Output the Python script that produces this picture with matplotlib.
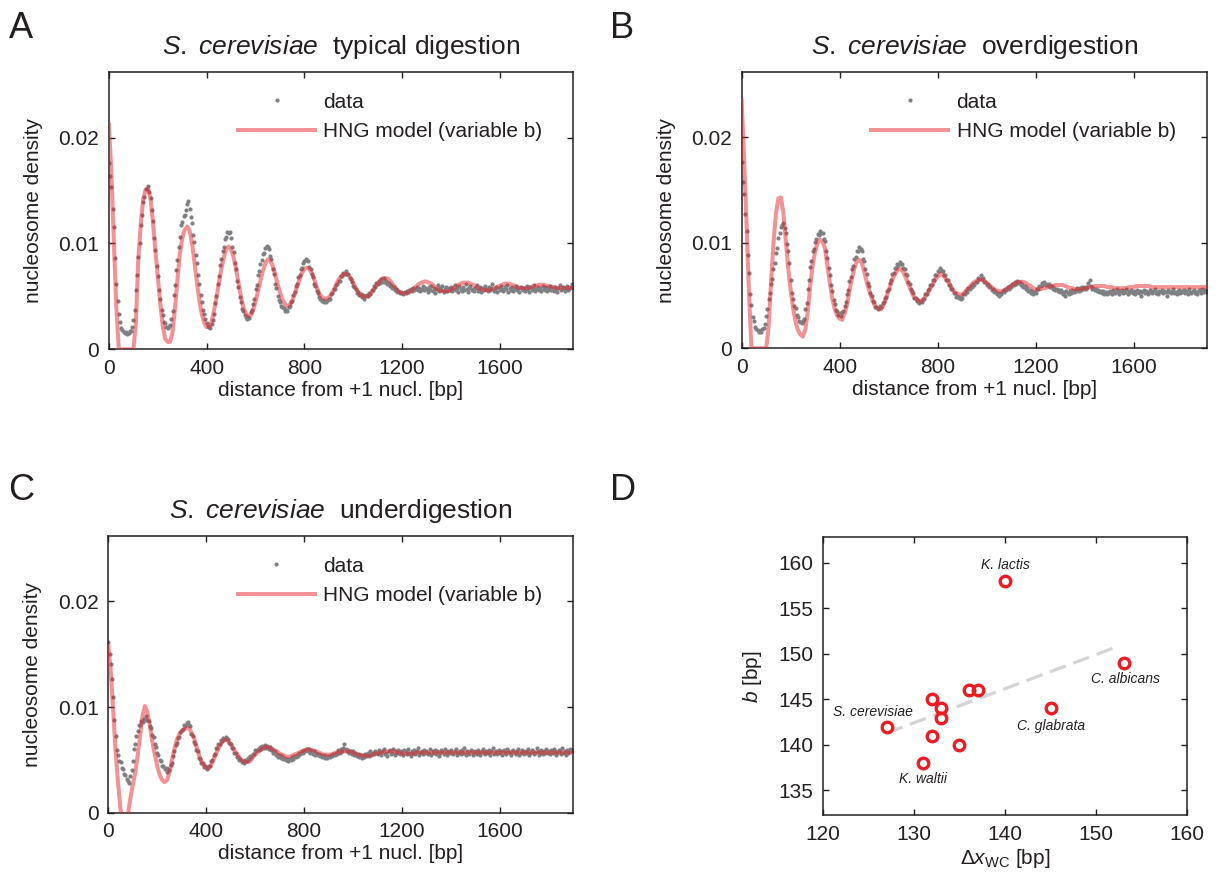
import numpy as np
import matplotlib
matplotlib.use('Agg')
import matplotlib.pyplot as plt
from matplotlib.lines import Line2D

plt.rcParams['font.family'] = ['Liberation Sans', 'DejaVu Sans']
plt.rcParams['mathtext.fontset'] = 'custom'
plt.rcParams['mathtext.rm'] = 'Liberation Sans'
plt.rcParams['mathtext.it'] = 'Liberation Sans:italic'
plt.rcParams['mathtext.bf'] = 'Liberation Sans:bold'

# ---------------- data (nucleosome density in units of 1e-4) ----------------
DENSITY_UNIT = 1e-4
DATA_STEP_BP = 5      # data sampled every 5 bp, starting at 0
MODEL_STEP_BP = 10    # model sampled every 10 bp, starting at 0

typical_data = [
    176,164,153,133,116,86,62,46,33,26,20,18,16,15,16,14,15,17,17,21,
    28,37,56,70,87,100,117,127,139,144,151,151,154,149,143,132,121,105,94,79,
    69,56,48,37,32,26,25,21,20,22,23,29,36,51,61,75,84,97,106,117,
    120,126,127,132,137,140,133,125,119,108,101,89,82,70,62,51,45,37,33,29,
    25,22,21,20,24,28,33,44,50,62,69,80,85,93,97,104,106,111,110,111,
    105,97,92,82,76,65,59,49,45,38,36,32,31,29,31,30,35,37,43,48,
    57,61,70,74,81,84,90,91,96,98,97,95,88,85,76,71,62,58,50,47,
    45,41,40,39,36,37,36,40,41,45,46,51,54,60,62,68,70,76,77,82,
    83,85,84,83,78,76,71,68,62,60,55,53,49,48,46,47,45,46,45,47,
    48,48,52,53,57,57,61,62,65,65,69,69,72,71,74,71,71,67,66,64,
    60,59,57,53,54,51,52,49,51,48,50,51,50,53,52,56,56,60,59,63,
    62,65,63,66,64,67,64,65,62,63,60,61,58,59,56,57,54,55,53,54,
    53,52,54,53,55,54,56,57,55,58,56,57,59,56,58,55,57,60,56,58,
    57,54,59,56,60,55,58,53,57,61,55,58,56,60,54,57,59,55,58,56,
    59,55,57,61,56,58,54,60,57,55,59,56,62,57,54,58,60,56,57,55,
    58,61,55,57,59,54,58,56,60,57,55,59,56,58,62,55,57,59,54,58,
    56,60,57,55,59,57,61,54,58,56,59,55,57,60,56,58,54,59,57,56,
    58,55,60,57,54,59,56,58,61,55,57,59,56,58,55,60,57,56,59,55,
    57,60,56,58,55,59,57,54,58,61,56,57,59,55,58,60,56,57,59,62,
    58]

typical_model = [
    212,165,100,40,0,0,0,0,0,0,
    0,25,86,118,142,151,152,142,120,93,
    68,43,22,10,7,7,16,38,65,90,
    105,113,116,112,100,82,63,46,33,25,
    21,21,26,36,49,63,76,87,95,97,
    94,87,76,63,50,40,34,31,32,37,
    45,55,65,74,81,85,84,79,71,62,
    54,47,43,41,42,46,52,59,66,72,
    76,77,76,72,66,59,53,50,48,48,
    49,52,56,61,66,69,71,71,70,67,
    63,58,54,51,50,50,50,52,55,59,
    62,65,67,67,67,65,62,59,56,54,
    53,53,53,54,56,58,60,62,63,64,
    64,63,62,60,58,56,55,55,55,55,
    56,58,59,61,62,63,63,63,62,61,
    60,58,57,56,56,56,56,57,58,59,
    60,61,62,62,62,61,60,59,58,58,
    58,58,58,59,60,60,61,61,61,60,
    60,59,59,58,58,58,58,58,58,58,
    58]

over_data = [
    177,158,146,127,111,88,71,51,41,30,26,20,18,17,15,16,15,18,19,23,
    31,37,47,52,61,66,75,81,90,95,105,109,115,117,119,114,109,99,92,81,
    65,52,47,40,38,32,30,26,25,24,26,28,37,43,56,65,77,83,92,94,
    101,104,108,107,111,109,109,104,102,92,86,76,69,60,54,46,42,36,35,32,
    33,31,34,35,40,44,51,55,64,68,75,78,85,87,92,92,96,94,92,85,
    83,75,70,62,59,52,50,45,44,39,39,37,38,40,39,43,44,48,49,54,
    56,62,65,70,71,76,76,80,79,82,80,80,76,75,70,69,63,61,56,54,
    52,48,48,45,46,43,45,44,47,47,51,51,55,56,60,60,65,65,69,69,
    73,73,76,74,73,69,69,65,65,60,60,56,56,52,52,49,50,48,49,47,
    48,51,51,54,53,57,56,59,58,61,60,63,63,67,66,69,66,67,63,63,
    60,61,58,58,55,56,53,54,51,52,50,52,51,54,53,56,55,58,56,59,
    58,61,60,63,61,64,62,63,60,61,58,59,56,57,54,55,52,54,51,53,
    52,56,56,59,59,62,61,63,60,61,60,61,58,59,56,57,55,56,54,55,
    53,55,51,53,50,54,52,51,54,52,55,53,55,54,57,54,57,55,58,56,
    58,56,58,62,65,59,56,57,55,56,54,55,53,54,52,54,51,53,51,53,
    52,54,51,55,53,52,56,53,51,54,55,52,54,53,56,51,54,53,55,52,
    54,51,53,55,52,54,50,53,55,52,54,53,51,55,53,52,54,56,52,53,
    51,54,53,55,52,54,53,50,55,53,52,54,56,52,53,51,54,55,52,54,
    53,55,52,54,51,56,53,52,54,55,52,53,51,55,54,52,56,53,55,54,
    53]

over_model = [
    235,180,118,52,0,0,0,0,0,0,
    0,20,63,100,128,142,143,129,102,76,
    55,38,25,17,13,11,18,35,60,79,
    92,100,103,101,95,78,62,47,37,31,
    28,27,33,41,55,66,76,82,84,81,
    73,63,55,48,42,39,37,37,42,48,
    55,62,68,72,75,75,72,67,61,55,
    50,47,45,44,46,49,53,57,61,65,
    68,70,70,67,64,60,56,53,52,51,
    51,53,56,58,61,63,64,65,65,64,
    62,60,58,56,55,54,54,55,56,58,
    59,61,62,63,63,63,62,60,59,57,
    56,56,56,57,57,58,59,59,60,60,
    60,60,59,58,57,57,56,56,56,56,
    57,57,58,58,59,59,59,59,59,58,
    58,58,57,57,57,57,57,57,58,58,
    58,59,59,59,59,59,59,58,58,58,
    58,58,58,58,58,58,58,58,58,58,
    58,58,58,58,58,58,58,58,58,58,
    58]

under_data = [
    162,150,141,127,110,88,73,59,55,49,48,42,41,37,36,32,30,28,35,40,
    49,60,65,73,77,83,83,87,86,89,88,92,88,87,82,80,74,72,65,62,
    57,55,50,49,44,44,41,42,39,41,40,45,47,54,58,64,66,71,72,76,
    78,79,83,82,85,86,83,82,75,73,67,65,59,58,52,51,47,47,43,44,
    43,41,44,44,49,50,55,56,61,61,65,65,69,68,71,70,72,70,70,66,
    65,61,61,57,57,53,53,50,51,48,49,47,50,49,52,51,54,53,56,56,
    59,58,60,59,62,60,63,61,64,61,63,60,62,59,60,57,58,55,56,53,
    55,52,54,51,52,50,51,49,51,50,53,51,54,53,55,54,57,56,58,57,
    59,58,60,58,60,57,59,56,58,55,57,55,56,54,55,53,55,52,54,52,
    54,53,55,54,56,55,57,56,59,57,60,58,61,65,60,58,59,57,58,56,
    58,55,57,54,56,53,55,52,55,53,56,54,57,54,58,55,57,56,58,57,
    56,59,57,55,58,60,56,57,54,58,59,56,57,60,55,58,57,59,56,58,
    57,55,59,58,56,60,57,54,58,57,59,56,58,61,55,57,58,56,59,57,
    58,56,57,60,55,58,57,59,56,58,54,57,59,58,56,60,57,55,58,57,
    59,57,56,58,60,55,57,58,56,59,57,61,55,58,57,56,59,58,55,57,
    58,56,59,57,55,58,60,57,56,58,57,59,55,58,61,56,57,58,56,59,
    57,58,55,59,57,56,60,58,57,55,58,59,57,56,58,60,55,57,59,58,
    56,58,57,60,55,57,59,58,56,57,61,58,55,57,59,56,58,57,60,57,
    58,56,59,57,60,58,55,57,59,58,56,61,57,58,55,59,57,60,58,59,
    58]

under_model = [
    158,135,97,58,28,3,-10,-10,-2,13,
    26,38,54,73,92,101,95,82,67,55,
    44,36,31,29,31,38,50,60,69,74,
    77,79,80,80,76,71,63,55,49,45,
    43,42,45,50,56,61,65,68,69,68,
    65,61,57,54,51,49,48,48,49,52,
    55,57,59,61,62,62,62,60,59,58,
    56,55,54,53,53,54,55,56,57,58,
    59,60,60,59,59,58,57,56,55,55,
    55,55,56,57,57,58,58,58,58,58,
    57,56,55,55,54,54,54,54,55,56,
    56,57,57,58,58,58,58,58,57,57,
    56,56,56,56,56,56,57,57,57,57,
    57,57,57,57,57,57,57,57,57,57,
    57,57,57,57,57,57,57,57,57,57,
    57,57,57,57,57,57,57,57,57,57,
    57,57,57,57,57,57,57,57,57,57,
    57,57,57,57,57,57,57,57,57,57,
    57,57,57,57,57,57,57,57,57,57,
    57]

# panel D
delta_x_wc = [127, 131, 132, 132, 133, 133, 135, 136, 137, 140, 145, 153]
b_bp = [142, 138, 145, 141, 144, 143, 140, 146, 146, 158, 144, 149]
fit_x = [127.0, 152.6]
fit_b = [141.3, 150.9]
species_labels = ['S. cerevisiae', 'K. waltii', 'K. lactis', 'C. glabrata', 'C. albicans']
species_label_x = [125.55, 130.97, 140.0, 145.1, 153.2]
species_label_b = [143.65, 136.25, 159.8, 142.1, 147.2]

x_ticks = [0, 400, 800, 1200, 1600]
y_ticks = [0, 0.01, 0.02]
y_ticklabels = ['0', '0.01', '0.02']

# ---------------- figure ----------------
fig = plt.figure(figsize=(12.18, 8.81), dpi=100)
INK = '#231f20'
GRAY = '#7f8083'
MODEL_RED = '#e8262b'
DOT_MS = 3.0
MODEL_LW = 2.9


def style(ax):
    ax.tick_params(direction='in', length=4, width=1.0, top=True, right=True,
                   labelsize=15, colors=INK, pad=7)
    for s in ax.spines.values():
        s.set_linewidth(1.1)
        s.set_color(INK)


def density_panel(rect, data, model, title_txt):
    ax = fig.add_axes(rect)
    dx = np.arange(len(data)) * DATA_STEP_BP
    mx = np.arange(len(model)) * MODEL_STEP_BP
    ax.plot(dx, np.array(data) * DENSITY_UNIT, linestyle='none', marker='o',
            ms=DOT_MS, mec='none', mfc=GRAY, zorder=2)
    ax.plot(mx, np.array(model) * DENSITY_UNIT, color=MODEL_RED, alpha=0.5,
            lw=MODEL_LW, zorder=3)
    ax.set_xlim(0, 1900)
    ax.set_ylim(0, 0.0262)
    ax.set_xticks(x_ticks)
    ax.set_yticks(y_ticks)
    ax.set_yticklabels(y_ticklabels)
    style(ax)
    ax.set_xlabel('distance from +1 nucl. [bp]', fontsize=15, color=INK, labelpad=2)
    ax.set_ylabel('nucleosome density', fontsize=15, color=INK, labelpad=11)
    ax.set_title(r'$\it{S.\ cerevisiae}$  ' + title_txt, fontsize=19, color=INK, pad=13)
    h_data = Line2D([], [], linestyle='none', marker='o', ms=DOT_MS, mec='none', mfc=GRAY)
    h_model = Line2D([], [], color=MODEL_RED, alpha=0.5, lw=MODEL_LW)
    ax.legend([h_data, h_model], ['data', 'HNG model (variable b)'],
              loc='upper left', bbox_to_anchor=(0.278, 0.925), frameon=False,
              fontsize=15, borderpad=0, borderaxespad=0, handlelength=3.7,
              handletextpad=0.4, labelspacing=0.5, numpoints=1,
              labelcolor=INK)
    return ax


density_panel([0.0895, 0.6035, 0.381, 0.3148], typical_data, typical_model,
              'typical digestion')
density_panel([0.6089, 0.6047, 0.3823, 0.3136], over_data, over_model,
              'overdigestion')
density_panel([0.0889, 0.0775, 0.3818, 0.3141], under_data, under_model,
              'underdigestion')

# panel D
axd = fig.add_axes([0.6755, 0.0749, 0.2993, 0.3152])
axd.plot(fit_x, fit_b, color='#d4d4d6', lw=2.3, linestyle=(0, (5.3, 2.5)), zorder=2)
axd.plot(delta_x_wc, b_bp, linestyle='none', marker='o', ms=7.6, mew=2.4,
         mfc='none', mec='#ec1c24', zorder=3)
for name, lx, ly in zip(species_labels, species_label_x, species_label_b):
    axd.text(lx, ly, name, fontsize=10, style='italic', color=INK,
             ha='center', va='center')
axd.set_xlim(120, 160)
axd.set_ylim(132.3, 162.8)
axd.set_xticks([120, 130, 140, 150, 160])
axd.set_yticks([135, 140, 145, 150, 155, 160])
style(axd)
axd.set_xlabel(r'$\Delta\mathit{x}_{\mathrm{WC}}$ [bp]', fontsize=15, color=INK, labelpad=2)
axd.set_ylabel(r'$\mathit{b}$ [bp]', fontsize=15, color=INK, labelpad=10)

# panel letters
for letter, px, py in [('A', 0.007, 0.957), ('B', 0.501, 0.957),
                       ('C', 0.007, 0.432), ('D', 0.501, 0.432)]:
    fig.text(px, py, letter, fontsize=26, color=INK, va='baseline', ha='left')

fig.savefig('out.png', dpi=100)
